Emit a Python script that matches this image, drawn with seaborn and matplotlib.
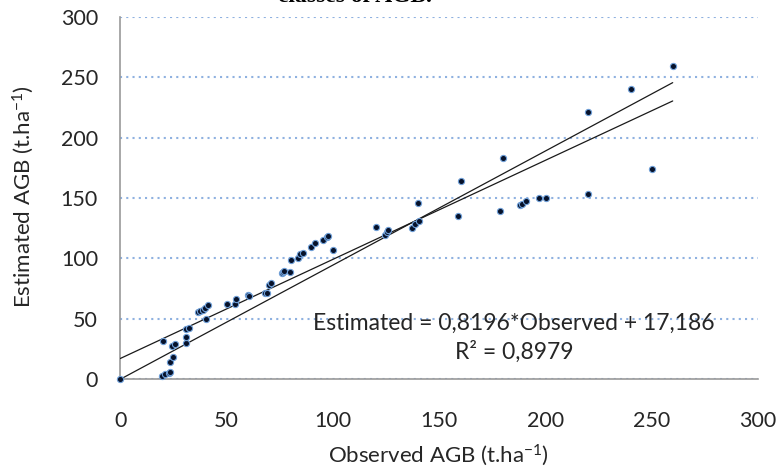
import matplotlib
matplotlib.use("Agg")
import matplotlib.pyplot as plt
import seaborn as sns
import pandas as pd

# ---- data ----
observed = [0, 19.8, 21.2, 22.8, 23.6, 23.4, 24.7, 24.5, 25.8, 20.3,
            30.9, 30.9, 30.9, 32.3, 36.5, 37.6, 38.8, 39.9, 41.5, 40.4,
            50.1, 54.0, 54.5, 60.0, 60.5, 68.1, 69.2, 70.2, 70.8,
            76.0, 76.8, 77.2, 79.9, 80.4, 83.8, 84.6, 86.2, 89.8, 91.7,
            95.6, 97.5, 97.9, 100.0, 120.2, 124.6, 125.7, 126.2,
            137.3, 138.6, 140.8, 140.3, 159.1, 160.4, 178.6, 180.3,
            188.1, 188.9, 191.0, 197.1, 200.4, 220.2, 220.3, 240.2,
            250.3, 260.1]
estimated = [0, 2.7, 4.1, 5.0, 6.4, 14.5, 18.7, 27.5, 29.2, 31.7,
             30.3, 35.2, 41.3, 42.1, 55.9, 56.7, 57.3, 59.2, 61.2, 49.8,
             62.5, 62.2, 66.4, 69.7, 69.0, 71.1, 71.5, 77.9, 79.3,
             87.6, 88.9, 89.8, 88.9, 98.3, 100.0, 103.6, 104.1, 109.6, 112.4,
             115.1, 117.9, 118.4, 106.9, 125.9, 119.3, 122.0, 123.4,
             124.8, 128.3, 131.1, 145.5, 135.0, 164.1, 139.1, 183.5,
             144.0, 144.9, 147.6, 150.1, 150.1, 152.9, 221.2, 240.5,
             174.4, 259.2]

reg_slope, reg_intercept = 0.8196, 17.186      # linear trendline
origin_slope = 0.944                            # trendline through origin
line_x = [0, 260]

x_ticks = [0, 50, 100, 150, 200, 250, 300]
y_ticks = [0, 50, 100, 150, 200, 250, 300]

eq_text = "Estimated = 0,8196*Observed + 17,186"
r2_text = "R² = 0,8979"
x_label = "Observed AGB (t.ha$^{-1}$)"
y_label = "Estimated AGB (t.ha$^{-1}$)"
title_tail = "classes of AGB."

# ---- plot ----
sns.set_theme(style="white")
plt.rcParams["font.family"] = ["Lato", "DejaVu Sans"]
plt.rcParams["mathtext.fontset"] = "custom"
plt.rcParams["mathtext.rm"] = "Lato"
plt.rcParams["mathtext.default"] = "rm"

TXT = "#262626"
AX = "#9a9a9a"
fig = plt.figure(figsize=(7.82, 4.74), dpi=100)
ax = fig.add_axes([120.2 / 782, 1 - 379.3 / 474,
                   (757.7 - 120.2) / 782, (379.3 - 16.7) / 474])

df = pd.DataFrame({"Observed": observed, "Estimated": estimated})
lines = pd.DataFrame({
    "x": line_x * 2,
    "y": [reg_intercept + reg_slope * v for v in line_x]
         + [origin_slope * v for v in line_x],
    "kind": ["reg"] * 2 + ["origin"] * 2,
})

sns.lineplot(data=lines, x="x", y="y", units="kind", estimator=None,
             color="#1a1a1a", lw=0.9, ax=ax, zorder=3)
sns.scatterplot(data=df, x="Observed", y="Estimated", ax=ax, s=20,
                color="#07122a", edgecolor="#6f9fd8", linewidth=0.8,
                zorder=4, clip_on=False)

ax.set_xlim(0, 300)
ax.set_ylim(0, 300)
ax.set_xticks(x_ticks)
ax.set_yticks(y_ticks)
ax.set_xticklabels([str(t) for t in x_ticks], fontsize=15.5, color=TXT)
ax.set_yticklabels([str(t) for t in y_ticks], fontsize=15.5, color=TXT)

ax.yaxis.grid(True, color="#8fb1e0", linestyle=(0, (1.0, 2.0)), linewidth=1.5)
ax.xaxis.grid(False)
sns.despine(ax=ax, top=True, right=True)
for sp in ("left", "bottom"):
    ax.spines[sp].set_color(AX)
    ax.spines[sp].set_linewidth(1.2)
ax.tick_params(axis="both", direction="out", length=7, width=1.2, color=AX)
ax.tick_params(axis="x", pad=16)
ax.tick_params(axis="y", pad=9)

ax.set_xlabel(x_label, fontsize=16, color=TXT)
ax.set_ylabel(y_label, fontsize=16, color=TXT)
ax.xaxis.set_label_coords(0.5, -(455 - 379.3) / (379.3 - 16.7), transform=ax.transAxes)
ax.yaxis.set_label_coords(-(120.2 - 23) / (757.7 - 120.2), (379.3 - 197) / (379.3 - 16.7),
                          transform=ax.transAxes)
ax.xaxis.label.set_va("center")
ax.yaxis.label.set_va("center")

fig.text(514 / 782, 1 - 323 / 474, eq_text, fontsize=16.5, color=TXT,
         ha="center", va="center")
fig.text(514 / 782, 1 - 352 / 474, r2_text, fontsize=16.5, color=TXT,
         ha="center", va="center")

fig.text(355 / 782, 1 - 2 / 474, title_tail, fontsize=17, fontweight="bold",
         family=["Liberation Serif", "DejaVu Serif"], color="black",
         ha="center", va="baseline")

fig.savefig("out.png", dpi=100)
